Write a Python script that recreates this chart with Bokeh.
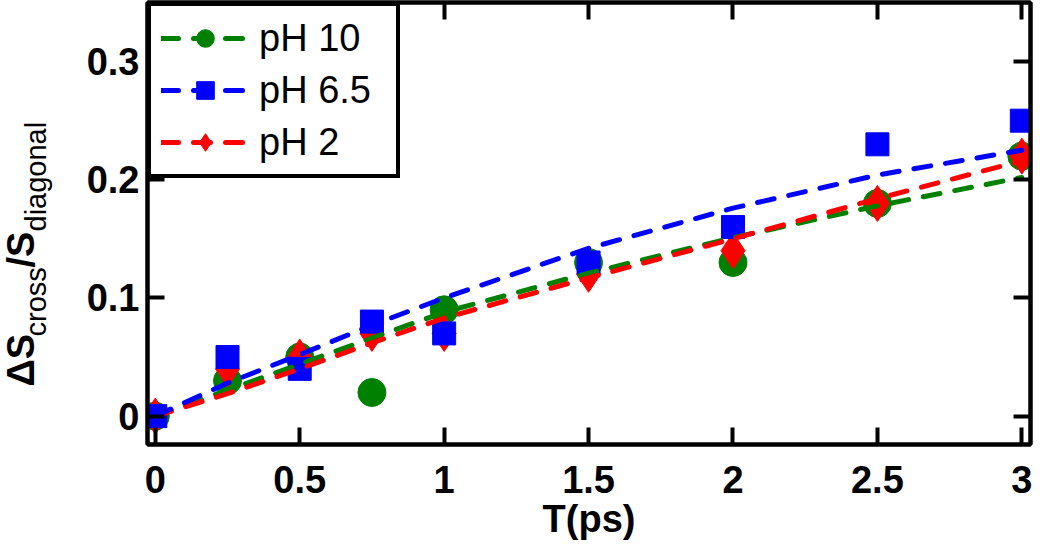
from bokeh.plotting import figure
from bokeh.layouts import row
from bokeh.models import Range1d, LinearAxis, FixedTicker, Legend, LegendItem, Label
from bokeh.embed import file_html
from bokeh.resources import INLINE

# ---- data ----
t = [0, 0.25, 0.5, 0.75, 1.0, 1.5, 2.0, 2.5, 3.0]
ph10 = [0.0, 0.03, 0.05, 0.02, 0.09, 0.13, 0.13, 0.18, 0.22]
ph65 = [0.0, 0.05, 0.04, 0.08, 0.07, 0.13, 0.16, 0.23, 0.25]
ph2 = [0.0, 0.04, 0.05, 0.07, 0.07, 0.12, 0.14, 0.18, 0.22]

fit_t = [0, 0.25, 0.5, 0.75, 1.0, 1.5, 2.0, 2.5, 3.0]
fit10 = [0.0, 0.022, 0.044, 0.066, 0.088, 0.121, 0.151, 0.178, 0.202]
fit65 = [0.0, 0.028, 0.052, 0.077, 0.100, 0.142, 0.176, 0.204, 0.225]
fit2 = [0.0, 0.019, 0.040, 0.062, 0.083, 0.117, 0.150, 0.184, 0.216]

series_labels = ["pH 10", "pH 6.5", "pH 2"]

x_ticks = [0, 0.5, 1, 1.5, 2, 2.5, 3]
x_tick_labels = ["0", "0.5", "1", "1.5", "2", "2.5", "3"]
y_ticks = [0, 0.1, 0.2, 0.3]
y_tick_labels = ["0", "0.1", "0.2", "0.3"]

x_title = "T(ps)"
# y title pieces: ΔS_cross / S_diagonal
y_title_parts = ["\u0394S", "cross", "/S", "diagonal"]

GREEN = "#008000"
BLUE = "#0000ff"
RED = "#ff0000"
FONT = "Liberation Sans"

W, H = 1034, 542
LEFT_W = 80

p = figure(width=W - LEFT_W, height=H,
           x_range=Range1d(-0.027, 3.03), y_range=Range1d(-0.024, 0.35),
           output_backend="svg", toolbar_location=None,
           min_border_left=67, min_border_right=4,
           min_border_top=2, min_border_bottom=94)
p.grid.visible = False
p.background_fill_color = "white"
p.border_fill_color = "white"
p.outline_line_color = "black"
p.outline_line_width = 4
p.outline_line_alpha = 1.0


def style_axis(ax, ticks):
    ax.ticker = FixedTicker(ticks=ticks)
    ax.axis_line_width = 4
    ax.axis_line_color = "black"
    ax.major_tick_in = 17
    ax.major_tick_out = 0
    ax.major_tick_line_width = 4
    ax.major_tick_line_color = "black"
    ax.minor_tick_in = 0
    ax.minor_tick_out = 0
    ax.major_label_text_font = FONT
    ax.major_label_text_font_style = "bold"
    ax.major_label_text_font_size = "38px"
    ax.major_label_text_color = "black"


style_axis(p.xaxis[0], x_ticks)
p.xaxis[0].major_label_overrides = {float(k): v for k, v in zip(x_ticks, x_tick_labels)}
p.xaxis[0].major_label_standoff = 21
p.xaxis[0].axis_label = x_title
p.xaxis[0].axis_label_text_font = FONT
p.xaxis[0].axis_label_text_font_style = "bold"
p.xaxis[0].axis_label_text_font_size = "38px"
p.xaxis[0].axis_label_text_color = "black"
p.xaxis[0].axis_label_standoff = 2

style_axis(p.yaxis[0], y_ticks)
p.yaxis[0].major_label_overrides = {float(k): v for k, v in zip(y_ticks, y_tick_labels)}
p.yaxis[0].major_label_standoff = 8
p.yaxis[0].major_label_orientation = "horizontal"

# mirrored ticks on top and right
top_ax = LinearAxis()
style_axis(top_ax, x_ticks)
top_ax.major_label_overrides = {float(k): "" for k in x_ticks}
top_ax.major_label_text_font_size = "0px"
top_ax.major_label_standoff = 0
p.add_layout(top_ax, "above")

right_ax = LinearAxis()
style_axis(right_ax, y_ticks)
right_ax.major_label_overrides = {float(k): "" for k in y_ticks}
right_ax.major_label_text_font_size = "0px"
right_ax.major_label_standoff = 0
p.add_layout(right_ax, "right")

# markers (green, red, blue stacking as in the reference)
s10 = p.scatter(t, ph10, marker="circle", size=28, fill_color=GREEN, line_color=GREEN, line_width=1)
s2 = p.scatter(t, ph2, marker="diamond", size=36, fill_color=RED, line_color=RED, line_width=1)
s65 = p.scatter(t, ph65, marker="square", size=23, fill_color=BLUE, line_color=BLUE, line_width=1)

# dashed fit curves
dash = "17 15"
l10 = p.line(fit_t, fit10, line_color=GREEN, line_width=5, line_dash=dash, line_cap="round")
l2 = p.line(fit_t, fit2, line_color=RED, line_width=5, line_dash=dash, line_cap="round")
l65 = p.line(fit_t, fit65, line_color=BLUE, line_width=5, line_dash=dash, line_cap="round")

legend = Legend(items=[
    LegendItem(label=series_labels[0], renderers=[l10, s10]),
    LegendItem(label=series_labels[1], renderers=[l65, s65]),
    LegendItem(label=series_labels[2], renderers=[l2, s2]),
], location="top_left", margin=0, padding=10, spacing=8,
    glyph_width=88, glyph_height=44, label_width=127, label_standoff=10,
    label_text_font=FONT, label_text_font_size="38px", label_text_color="black",
    border_line_color="black", border_line_width=4, border_line_alpha=1.0,
    background_fill_color="white", background_fill_alpha=1.0)
p.add_layout(legend)

# narrow left panel carrying the rotated y-axis title with subscripts
ylab = figure(width=LEFT_W, height=H, output_backend="svg", toolbar_location=None,
              x_range=Range1d(0, 1), y_range=Range1d(0, 1),
              x_axis_location=None, y_axis_location=None,
              min_border=0, outline_line_color=None)
ylab.grid.visible = False
ylab.background_fill_color = "white"
ylab.border_fill_color = "white"

# (text, start along the axis from the panel bottom, baseline x, style, size)
ylab_layout = [
    (y_title_parts[0], 58, 20, "bold", "38px"),
    (y_title_parts[1], 108, 35, "normal", "29px"),
    (y_title_parts[2], 177, 20, "bold", "38px"),
    (y_title_parts[3], 213, 35, "normal", "29px"),
]
for txt, ypos, xpos, style, size in ylab_layout:
    ylab.add_layout(Label(x=xpos, y=ypos, x_units="screen", y_units="screen",
                          text=txt, angle=90, angle_units="deg",
                          text_font=FONT, text_font_style=style, text_font_size=size,
                          text_color="black", text_align="left", text_baseline="alphabetic"))

layout = row(ylab, p, spacing=0)
open("out.html", "w").write(file_html(layout, INLINE))
